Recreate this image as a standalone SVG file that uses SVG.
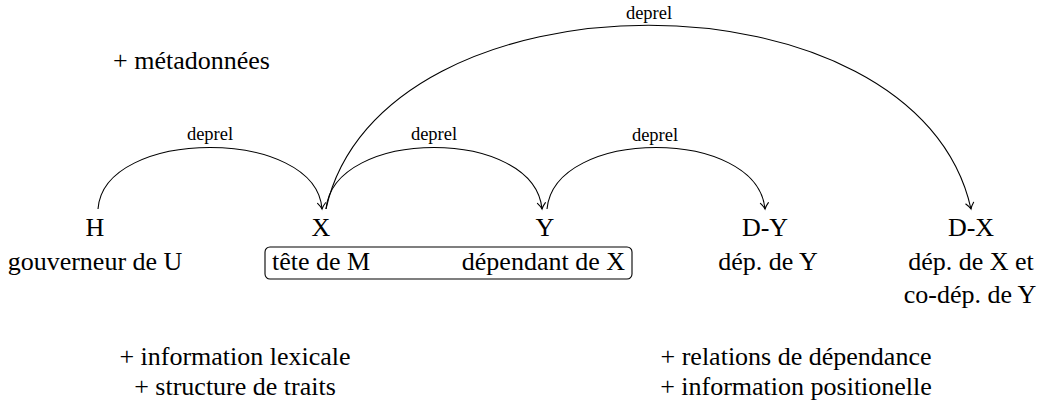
<svg xmlns="http://www.w3.org/2000/svg" width="1052" height="411" viewBox="0 0 1052 411" font-family="'Liberation Serif', 'Times New Roman', Times, 'DejaVu Serif', serif">
<style>
text{font-family:'Liberation Serif','Times New Roman',Times,'DejaVu Serif',serif;fill:#000}
.n{font-size:26px;text-anchor:middle}
.l{font-size:18.5px;text-anchor:middle}
.a{fill:none;stroke:#000;stroke-width:1.1}
</style>
<defs>
<marker id="ar" markerUnits="userSpaceOnUse" markerWidth="14" markerHeight="14" viewBox="-8 -7 10 14" refX="0" refY="0" orient="auto" overflow="visible">
<path d="M -6 -4 C -3.5 -1.8 -1.5 -0.6 0 0 C -1.5 0.6 -3.5 1.8 -6 4" fill="none" stroke="#000" stroke-width="1.1" stroke-linecap="round"/>
</marker>
</defs>
<rect width="1052" height="411" fill="#fff"/>
<g id="connectors">
<path class="a" d="M 98 209 C 104 127 316 127 322 209" marker-end="url(#ar)"/>
<path class="a" d="M 326 209 C 334 127 534 127 542 209" marker-end="url(#ar)"/>
<path class="a" d="M 547 209 C 555 127 757 127 765 209" marker-end="url(#ar)"/>
<path class="a" d="M 326 209 C 380 -36 917 -36 971 209" marker-end="url(#ar)"/>
<text class="l" x="210" y="140">deprel</text>
<text class="l" x="434" y="140">deprel</text>
<text class="l" x="655" y="141">deprel</text>
<text class="l" x="649" y="18.5">deprel</text>
</g>
<g id="node-H">
<text class="n" x="95" y="236">H</text>
<text class="n" x="95" y="270">gouverneur de U</text>
</g>
<g id="node-M">
<rect x="265" y="247" width="367" height="32" rx="5" ry="5" fill="none" stroke="#000" stroke-width="1.1"/>
</g>
<g id="node-X">
<text class="n" x="321" y="236">X</text>
<text x="272" y="270" font-size="26">tête de M</text>
</g>
<g id="node-Y">
<text class="n" x="545" y="236">Y</text>
<text x="625" y="270" font-size="26" text-anchor="end">dépendant de X</text>
</g>
<g id="node-DY">
<text class="n" x="765" y="236">D-Y</text>
<text class="n" x="768" y="270">dép. de Y</text>
</g>
<g id="node-DX">
<text class="n" x="971" y="236">D-X</text>
<text class="n" x="971" y="270">dép. de X et</text>
<text class="n" x="970" y="303">co-dép. de Y</text>
</g>
<g id="notes">
<text x="113" y="69" font-size="26">+ métadonnées</text>
<text class="n" x="235" y="365">+ information lexicale</text>
<text class="n" x="235" y="395">+ structure de traits</text>
<text class="n" x="796" y="365">+ relations de dépendance</text>
<text class="n" x="796" y="395">+ information positionelle</text>
</g>
</svg>
